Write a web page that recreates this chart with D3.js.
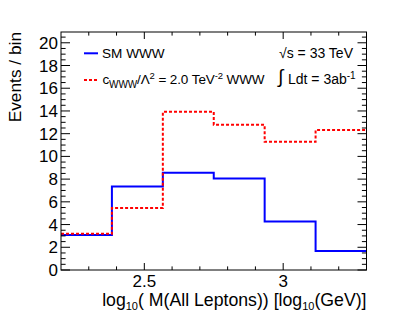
<!DOCTYPE html>
<html><head><meta charset="utf-8">
<script src="https://cdn.jsdelivr.net/npm/d3@7"></script>
<style>body{margin:0;background:#fff}text{font-family:"Liberation Sans",Arial,sans-serif;fill:#000}</style>
</head><body><svg id="c" width="407" height="318"></svg>
<script>
const binEdges = [2.2, 2.3833, 2.5667, 2.75, 2.9333, 3.1167, 3.3];
const smWWW   = [3.08, 7.35, 8.55, 8.05, 4.26, 1.67];
const aTGC    = [3.18, 5.46, 13.92, 12.78, 11.28, 12.33];
const xTicks = [2.5, 3];
const yTicks = [0, 2, 4, 6, 8, 10, 12, 14, 16, 18, 20];

const svg = d3.select("#c");
const L = 61, R = 366.5, T = 32, B = 270;
const x = d3.scaleLinear().domain([2.2, 3.3]).range([L, R]);
const y = d3.scaleLinear().domain([0, 20.95]).range([B, T]);

function stepPath(vals){
  let p = d3.path();
  vals.forEach((v,i)=>{
    const x0 = x(binEdges[i]), x1 = x(binEdges[i+1]), yy = y(v);
    if(i===0) p.moveTo(x0, yy); else p.lineTo(x0, yy);
    p.lineTo(x1, yy);
  });
  return p.toString();
}

const g = svg.append("g");
g.append("path").attr("d", stepPath(smWWW)).attr("fill","none")
  .attr("stroke","#0000ff").attr("stroke-width",2);
g.append("path").attr("d", stepPath(aTGC)).attr("fill","none")
  .attr("stroke","#ff0000").attr("stroke-width",2).attr("stroke-dasharray","3,2");

const tickCol = "#000";
const xMinor = d3.range(2.3, 3.3, 0.1).map(v=>+v.toFixed(2));
const yMinor = d3.range(0, 21, 0.5);
xMinor.forEach(v=>{
  const major = xTicks.some(t=>Math.abs(t-v)<1e-6);
  const len = major ? 7 : 3.6;
  g.append("line").attr("x1",x(v)).attr("x2",x(v)).attr("y1",B).attr("y2",B-len).attr("stroke",tickCol);
  g.append("line").attr("x1",x(v)).attr("x2",x(v)).attr("y1",T).attr("y2",T+len).attr("stroke",tickCol);
});
yMinor.forEach(v=>{
  const major = Math.abs(v%2)<1e-6;
  const len = major ? 9 : 4.6;
  g.append("line").attr("y1",y(v)).attr("y2",y(v)).attr("x1",L).attr("x2",L+len).attr("stroke",tickCol);
  g.append("line").attr("y1",y(v)).attr("y2",y(v)).attr("x1",R).attr("x2",R-len).attr("stroke",tickCol);
});
g.append("rect").attr("x",L).attr("y",T).attr("width",R-L).attr("height",B-T)
  .attr("fill","none").attr("stroke","#000").attr("stroke-width",1);

yTicks.forEach(v=>{
  svg.append("text").attr("x",L-3).attr("y",y(v)+6).attr("text-anchor","end")
    .attr("font-size",17).text(v);
});
xTicks.forEach(v=>{
  svg.append("text").attr("x",x(v)).attr("y",B+17).attr("text-anchor","middle")
    .attr("font-size",17).text(v===3?"3":"2.5");
});

const xt = svg.append("text").attr("x",R).attr("y",305.5).attr("text-anchor","end").attr("font-size",17.7);
xt.append("tspan").text("log");
xt.append("tspan").attr("font-size",11).attr("dy",4).text("10");
xt.append("tspan").attr("dy",-4).text("( M(All Leptons)) [log");
xt.append("tspan").attr("font-size",11).attr("dy",4).text("10");
xt.append("tspan").attr("dy",-4).text("(GeV)]");

svg.append("text").attr("transform",`translate(21,${T}) rotate(-90)`)
  .attr("text-anchor","end").attr("font-size",17.3).text("Events / bin");

// legend
svg.append("line").attr("x1",84).attr("x2",98).attr("y1",53.3).attr("y2",53.3)
  .attr("stroke","#0000ff").attr("stroke-width",2);
svg.append("text").attr("x",102).attr("y",58).attr("font-size",13.6).text("SM WWW");
svg.append("line").attr("x1",84).attr("x2",99).attr("y1",80).attr("y2",80)
  .attr("stroke","#ff0000").attr("stroke-width",2).attr("stroke-dasharray","3,2");
const lt = svg.append("text").attr("x",102.5).attr("y",84).attr("font-size",13.5)
  .attr("textLength",162).attr("lengthAdjust","spacing");
lt.append("tspan").text("c");
lt.append("tspan").attr("font-size",10).attr("dy",3.5).text("WWW");
lt.append("tspan").attr("dy",-3.5).text("/Λ");
lt.append("tspan").attr("font-size",9.5).attr("dy",-5).text("2");
lt.append("tspan").attr("dy",5).text(" = 2.0 TeV");
lt.append("tspan").attr("font-size",9.5).attr("dy",-5).text("-2");
lt.append("tspan").attr("dy",5).text(" WWW");

svg.append("text").attr("x",279).attr("y",58).attr("font-size",14).text("√s = 33 TeV");
svg.append("text").attr("x",278).attr("y",83).attr("font-size",19).text("∫");
const it = svg.append("text").attr("x",288).attr("y",84).attr("font-size",14);
it.append("tspan").text("Ldt = 3ab");
it.append("tspan").attr("font-size",10).attr("dy",-5).text("-1");
</script></body></html>
